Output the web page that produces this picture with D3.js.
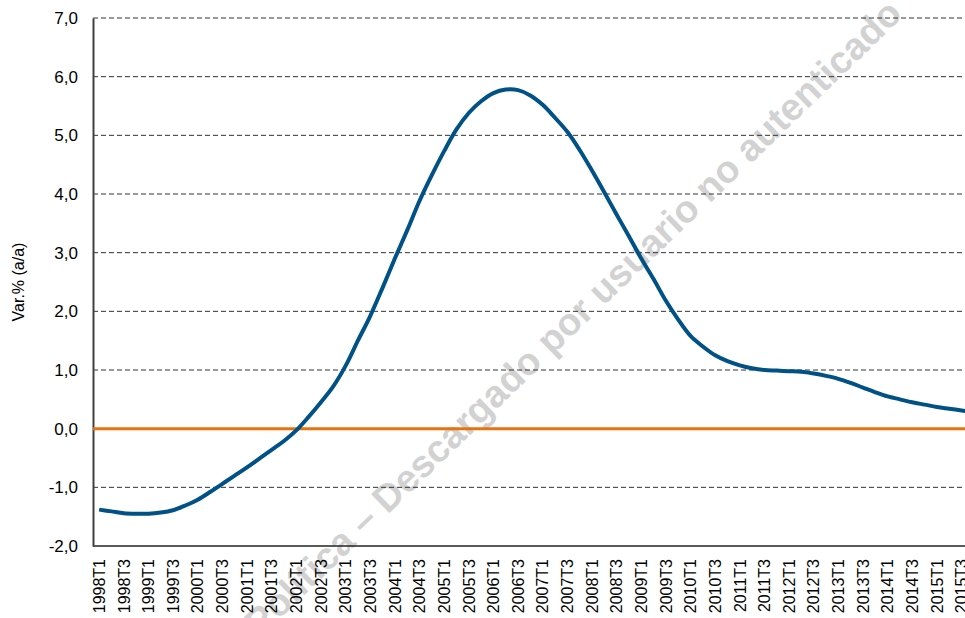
<!DOCTYPE html>
<html>
<head>
<meta charset="utf-8">
<script src="https://cdn.jsdelivr.net/npm/d3@7"></script>
<style>
  body { margin: 0; background: #fff; }
  svg { display: block; font-family: "Liberation Sans", Arial, sans-serif; }
</style>
</head>
<body>
<div id="chart"></div>
<script>
const width = 965;
const height = 618;
const margin = { top: 18, left: 93, bottom: 72 };

// quarters 1998T1 .. 2015T4
const years = d3.range(1998, 2016);
const quarters = years.flatMap(y => [1, 2, 3, 4].map(q => `${y}T${q}`));

const values = [
    -1.38, -1.41, -1.44, -1.45,
    -1.45, -1.43, -1.39, -1.31,
    -1.21, -1.08, -0.94, -0.80,
    -0.66, -0.51, -0.36, -0.21,
    -0.03, 0.20, 0.45, 0.72,
    1.07, 1.50, 1.92, 2.40,
    2.90, 3.38, 3.88, 4.32,
    4.73, 5.10, 5.38, 5.58,
    5.72, 5.78, 5.77, 5.68,
    5.52, 5.30, 5.06, 4.75,
    4.40, 4.03, 3.65, 3.28,
    2.90, 2.55, 2.18, 1.86,
    1.58, 1.40, 1.25, 1.15,
    1.08, 1.03, 1.00, 0.99,
    0.98, 0.97, 0.94, 0.90,
    0.85, 0.78, 0.70, 0.62,
    0.55, 0.50, 0.45, 0.41,
    0.37, 0.34, 0.31, 0.28
];

const yTicks = [-2, -1, 0, 1, 2, 3, 4, 5, 6, 7];
const xLabels = quarters.filter(q => q.endsWith("T1") || q.endsWith("T3"));

const svg = d3.select("#chart").append("svg")
    .attr("width", width)
    .attr("height", height);

const bandW = 12.32;
const x = d3.scaleBand()
    .domain(quarters)
    .range([margin.left, margin.left + quarters.length * bandW]);

const y = d3.scaleLinear()
    .domain([-2, 7])
    .range([height - margin.bottom, margin.top]);

const plotRight = width + 20;

// watermark
svg.append("text")
    .attr("transform", "translate(904,16) rotate(-44)")
    .attr("text-anchor", "end")
    .attr("font-size", 38)
    .attr("font-weight", "bold")
    .attr("fill", "#d2d2d2")
    .text("Biblioteca Política – Descargado por usuario no autenticado");

// gridlines
svg.append("g")
    .selectAll("line")
    .data(yTicks.filter(d => d !== 0))
    .join("line")
    .attr("x1", margin.left)
    .attr("x2", plotRight)
    .attr("y1", d => y(d))
    .attr("y2", d => y(d))
    .attr("stroke", d => d === -2 ? "#222" : "#333")
    .attr("stroke-width", d => d === -2 ? 1.5 : 1)
    .attr("stroke-dasharray", d => d === -2 ? null : "5,3");

// y axis
const yAxis = svg.append("g")
    .attr("transform", `translate(${margin.left},0)`)
    .call(d3.axisLeft(y).tickValues(yTicks).tickSize(0).tickPadding(15)
        .tickFormat(d => d3.format(".1f")(d).replace(".", ",").replace("−", "-")));
yAxis.select(".domain").attr("stroke", "#404040").attr("stroke-width", 2);
yAxis.selectAll("text").attr("font-size", 17).attr("fill", "#000")
    .attr("font-family", "Liberation Sans, Arial, sans-serif");

// x axis
const xAxis = svg.append("g")
    .attr("transform", `translate(0,${y(-2)})`)
    .call(d3.axisBottom(x).tickValues(xLabels).tickSize(0).tickPadding(0));
xAxis.select(".domain").remove();
xAxis.selectAll("text")
    .attr("font-size", 16)
    .attr("fill", "#000")
    .attr("font-family", "Liberation Sans, Arial, sans-serif")
    .attr("text-anchor", "end")
    .attr("dy", "0.36em")
    .attr("transform", "translate(0,13) rotate(-90)");

// y axis title
svg.append("text")
    .attr("transform", `translate(24,${(y(7) + y(-2)) / 2}) rotate(-90)`)
    .attr("text-anchor", "middle")
    .attr("font-size", 16)
    .text("Var.% (a/a)");

// zero line
svg.append("line")
    .attr("x1", margin.left)
    .attr("x2", plotRight)
    .attr("y1", y(0))
    .attr("y2", y(0))
    .attr("stroke", "#e8720c")
    .attr("stroke-width", 3);

// series
const line = d3.line()
    .x((d, i) => x(quarters[i]) + x.bandwidth() / 2)
    .y(d => y(d))
    .curve(d3.curveCatmullRom.alpha(0.5));

svg.append("path")
    .datum(values)
    .attr("fill", "none")
    .attr("stroke", "#005286")
    .attr("stroke-width", 4)
    .attr("d", line);
</script>
</body>
</html>
